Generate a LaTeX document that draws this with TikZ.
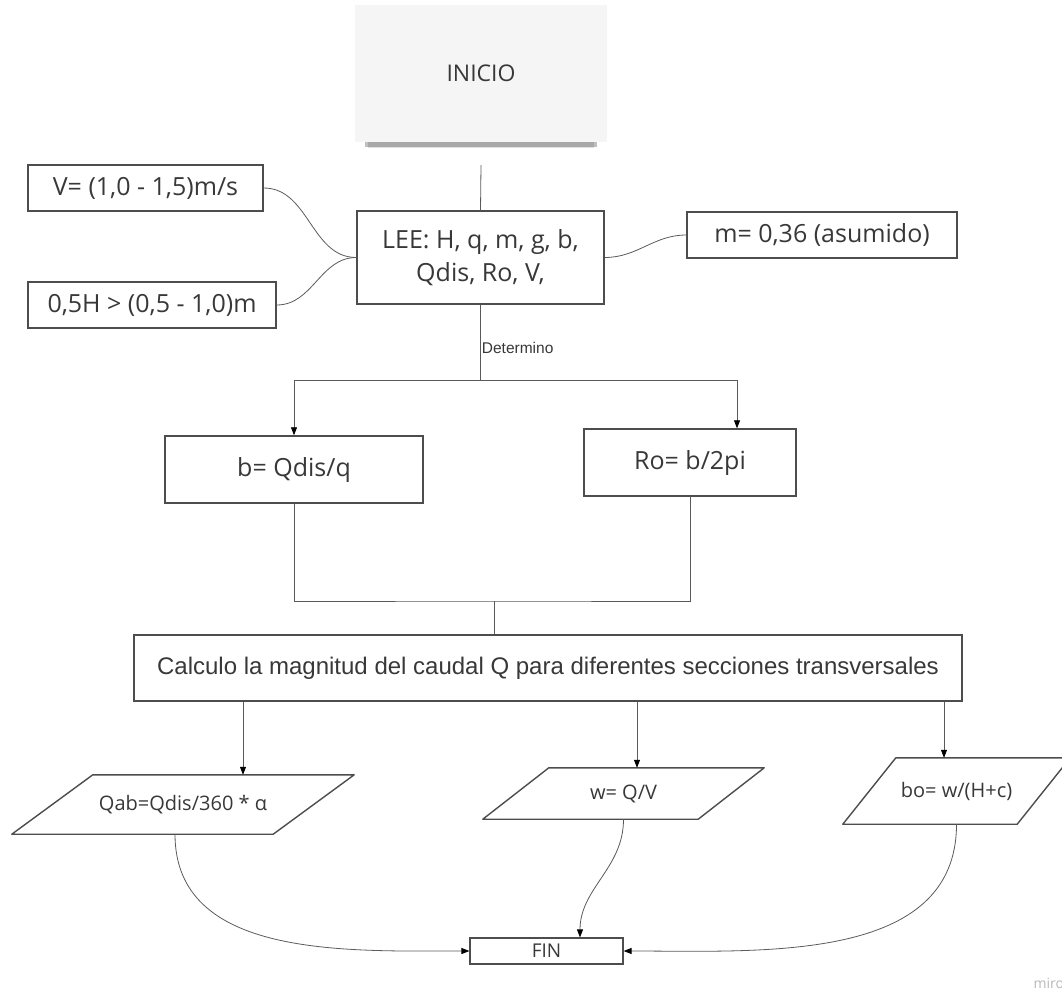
\documentclass[tikz,border=0pt]{standalone}
\usepackage{fontspec}
\setmainfont{Open Sans}
\newfontfamily\arialfont{Liberation Sans}
\usetikzlibrary{shadows,arrows.meta,positioning}
\definecolor{texto}{HTML}{383838}
\definecolor{borde}{HTML}{4D4D4D}
\definecolor{linea}{HTML}{5A5A5A}

% contorno inclinado alrededor de un nodo (#2 = medio desplazamiento)
\newcommand{\marcoparalelo}[2]{%
    \draw[draw=borde, line width=1.4pt, line join=round]
        ([xshift=#2]#1.north west) -- ([xshift=#2]#1.north east) --
        ([xshift=-#2]#1.south east) -- ([xshift=-#2]#1.south west) -- cycle;}

\begin{document}
\begin{tikzpicture}[x=1pt,y=-1pt,
    caja/.style={draw=borde, line width=1.4pt, text=texto, inner sep=0pt, font=\fontsize{25}{33}\selectfont},
    salida/.style={text=texto, inner sep=0pt, font=\fontsize{20}{24}\selectfont},
    conector/.style={draw=linea, line width=0.8pt},
    flecha/.style={conector, -{Triangle[length=8pt,width=6pt,color=black]}}]
    \useasboundingbox (0,0) rectangle (1062,993);

    % Inicio y lectura de datos
    \node[fill=black!4, text=texto, minimum width=252pt, minimum height=137pt, font=\fontsize{23}{28}\selectfont,
          drop shadow={shadow xshift=0pt, shadow yshift=-14pt, shadow scale=0.9, opacity=0.12, fill=black},
          drop shadow={shadow xshift=0pt, shadow yshift=-11pt, shadow scale=0.92, opacity=0.25, fill=black}] (inicio) at (481,73.5) {INICIO};
    \node[caja, minimum width=247pt, minimum height=93pt, align=center] (lee) at (480.5,257.5) {LEE: H, q, m, g, b,\\Qdis, Ro, V,};
    \node[caja, minimum width=235pt, minimum height=46pt] (vel) at (145.5,188) {V= (1,0 - 1,5)m/s};
    \node[caja, minimum width=248pt, minimum height=46pt] (alt) at (152,305) {0,5H > (0,5 - 1,0)m};
    \node[caja, minimum width=270pt, minimum height=46pt] (masum) at (822,235) {m= 0,36 (asumido)};

    % Calculos
    \node[caja, minimum width=258pt, minimum height=67pt] (bq) at (294,469.5) {b= Qdis/q};
    \node[caja, minimum width=212pt, minimum height=67pt] (ro) at (690,462.5) {Ro= b/2pi};
    \node[caja, minimum width=828pt, minimum height=66pt, font=\arialfont\fontsize{24}{28}\selectfont] (calc) at (548,668)
        {Calculo la magnitud del caudal Q para diferentes secciones transversales};

    % Salidas
    \node[salida, minimum width=261pt, minimum height=59pt] (qab) at (183,804.5) {Qab=Qdis/360 * α};
    \node[salida, minimum width=215pt, minimum height=51pt] (wq) at (623.5,793.5) {w= Q/V};
    \node[salida, minimum width=174pt, minimum height=66pt] (bo) at (956.5,791) {bo= w/(H+c)};
    \marcoparalelo{qab}{40.5pt}
    \marcoparalelo{wq}{33pt}
    \marcoparalelo{bo}{26.5pt}
    \node[caja, line width=1.2pt, minimum width=153pt, minimum height=26pt, font=\fontsize{19}{23}\selectfont] (fin) at (546.5,951) {FIN};

    \node[anchor=west, text=black!28, font=\fontsize{14}{16}\selectfont] (marca) at (1030,983) {miro};

    % Conectores
    \coordinate (split) at (480.5,380);
    \coordinate (join) at (494,601);

    \draw[conector] ([yshift=-23pt]inicio.south) -- (lee.north);
    \draw[conector] (vel.east) to[out=0,in=180] (lee.west);
    \draw[conector] (alt.east) to[out=0,in=180] (lee.west);
    \draw[conector] (lee.east) to[out=0,in=180] (masum.west);
    \draw[conector] (lee.south) -- node[pos=0.57, right, inner sep=1pt, text=texto, font=\arialfont\fontsize{15.5}{18}\selectfont] {Determino} (split);

    \draw[flecha] (split) -| (bq.north);
    \draw[flecha] (split) -| ([xshift=47pt]ro.north);
    \draw[conector] (bq.south) |- (join) -| (ro.south);
    \draw[conector] (join) -- (join |- calc.north);

    \draw[flecha] ([xshift=60pt]qab.north |- calc.south) -- ([xshift=60pt]qab.north);
    \draw[flecha] ([xshift=13.5pt]wq.north |- calc.south) -- ([xshift=13.5pt]wq.north);
    \draw[flecha] ([xshift=-12.5pt]bo.north |- calc.south) -- ([xshift=-12.5pt]bo.north);

    \draw[flecha] ([xshift=-8pt]qab.south) to[out=-90,in=180] (fin.west);
    \draw[flecha] (wq.south) to[out=-90,in=90] ([xshift=33.5pt]fin.north);
    \draw[flecha] (bo.south) to[out=-90,in=0] (fin.east);
\end{tikzpicture}
\end{document}
